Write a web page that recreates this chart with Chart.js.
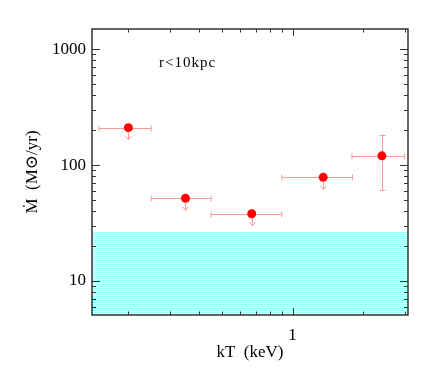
<!DOCTYPE html>
<html>
<head>
<meta charset="utf-8">
<script src="https://cdn.jsdelivr.net/npm/chart.js@4"></script>
<style>
  html, body { margin: 0; padding: 0; background: #fff; }
  #wrap { width: 436px; height: 374px; }
</style>
</head>
<body>
<div id="wrap"><canvas id="c" width="436" height="374"></canvas></div>
<script>
// kT (keV) values and their bins
const kT    = [0.20, 0.35, 0.67, 1.35, 2.40];
const kTLo  = [0.15, 0.25, 0.45, 0.90, 1.79];
const kTHi  = [0.25, 0.45, 0.90, 1.80, 3.00];
// mass deposition rate (Msun/yr)
const mdot   = [210, 51.6, 38.0, 78.3, 120];
const mdotLo = [null, null, null, null, 60.5];
const mdotHi = [null, null, null, null, 180];
const upperLimit = [true, true, true, true, false];
// cyan band: upper bound
const bandTop = 26.4;

const xRange = [0.14, 3.1];
const yRange = [5.09, 1490];
const xLabels = [1];
const yLabels = [10, 100, 1000];

const serif = "'Liberation Serif', 'DejaVu Serif', serif";
const ink = '#333';
const errColor = '#f49a9a';

// striped cyan fill
const stripe = document.createElement('canvas');
stripe.width = 4; stripe.height = 2;
const sctx = stripe.getContext('2d');
sctx.fillStyle = '#e4ffff'; sctx.fillRect(0, 0, 4, 2);
sctx.fillStyle = '#96ffff'; sctx.fillRect(0, 0, 4, 1);
const bandFill = sctx.createPattern(stripe, 'repeat');

const isMajor = (v, list) => list.some(m => Math.abs(v / m - 1) < 1e-6);

// inward ticks and full frame
const framePlugin = {
  id: 'frame',
  afterDatasetsDraw(chart) {
    const { ctx, chartArea: a, scales: { x, y } } = chart;
    ctx.save();
    ctx.strokeStyle = ink;
    ctx.lineWidth = 1;
    ctx.beginPath();
    for (let e = -1; e <= 0; e++) {
      for (let s = 1; s <= 9; s++) {
        const v = s * Math.pow(10, e);
        if (v < xRange[0] || v > xRange[1]) continue;
        const px = Math.round(x.getPixelForValue(v)) + 0.5;
        const len = s === 1 ? 7 : 3.5;
        ctx.moveTo(px, a.bottom); ctx.lineTo(px, a.bottom - len);
        ctx.moveTo(px, a.top); ctx.lineTo(px, a.top + len);
      }
    }
    for (let e = 0; e <= 3; e++) {
      for (let s = 1; s <= 9; s++) {
        const v = s * Math.pow(10, e);
        if (v < yRange[0] || v > yRange[1]) continue;
        const py = Math.round(y.getPixelForValue(v)) + 0.5;
        const len = s === 1 ? 8 : 4;
        ctx.moveTo(a.left, py); ctx.lineTo(a.left + len, py);
        ctx.moveTo(a.right, py); ctx.lineTo(a.right - len, py);
      }
    }
    ctx.stroke();
    ctx.lineWidth = 1.5;
    ctx.strokeRect(a.left, a.top, a.right - a.left, a.bottom - a.top);

    ctx.fillStyle = '#000';
    ctx.font = "15px " + serif;
    ctx.letterSpacing = '1px';
    ctx.textBaseline = 'middle';
    ctx.fillText('r<10kpc', x.getPixelForValue(0.27), y.getPixelForValue(757));
    ctx.restore();
  }
};

// error bars below the points, upper-limit arrows
const errorPlugin = {
  id: 'errors',
  beforeDatasetsDraw(chart) {
    const { ctx, scales: { x, y } } = chart;
    ctx.save();
    ctx.strokeStyle = errColor;
    ctx.lineWidth = 1;
    ctx.beginPath();
    kT.forEach((k, i) => {
      const py = Math.round(y.getPixelForValue(mdot[i])) + 0.5;
      const x0 = x.getPixelForValue(kTLo[i]);
      const x1 = x.getPixelForValue(kTHi[i]);
      ctx.moveTo(x0, py); ctx.lineTo(x1, py);
      ctx.moveTo(x0, py - 3); ctx.lineTo(x0, py + 3);
      ctx.moveTo(x1, py - 3); ctx.lineTo(x1, py + 3);
      if (mdotLo[i] != null) {
        const px = Math.round(x.getPixelForValue(k)) + 0.5;
        const y0 = y.getPixelForValue(mdotLo[i]);
        const y1 = y.getPixelForValue(mdotHi[i]);
        ctx.moveTo(px, y0); ctx.lineTo(px, y1);
        ctx.moveTo(px - 3, y0); ctx.lineTo(px + 3, y0);
        ctx.moveTo(px - 3, y1); ctx.lineTo(px + 3, y1);
      }
    });
    ctx.stroke();
    ctx.restore();
  },
  afterDatasetsDraw(chart) {
    const { ctx, scales: { x, y } } = chart;
    ctx.save();
    ctx.strokeStyle = errColor;
    ctx.lineWidth = 1;
    ctx.beginPath();
    kT.forEach((k, i) => {
      if (!upperLimit[i]) return;
      const px = Math.round(x.getPixelForValue(k)) + 0.5;
      const py = y.getPixelForValue(mdot[i]);
      ctx.moveTo(px, py + 4); ctx.lineTo(px, py + 12);
      ctx.moveTo(px - 3, py + 8.5); ctx.lineTo(px, py + 12); ctx.lineTo(px + 3, py + 8.5);
    });
    ctx.stroke();
    ctx.restore();
  }
};

new Chart(document.getElementById('c'), {
  type: 'scatter',
  data: {
    datasets: [
      {
        label: 'band',
        type: 'line',
        data: [{ x: xRange[0], y: bandTop }, { x: xRange[1], y: bandTop }],
        borderWidth: 0,
        pointRadius: 0,
        backgroundColor: bandFill,
        fill: 'start'
      },
      {
        label: 'Mdot',
        data: kT.map((k, i) => ({ x: k, y: mdot[i] })),
        pointRadius: 4.5,
        pointBackgroundColor: '#ff0000',
        pointBorderColor: '#ff0000',
        pointBorderWidth: 0
      }
    ]
  },
  options: {
    responsive: false,
    animation: false,
    layout: { padding: { top: 29, right: 28, left: 0, bottom: 0 } },
    plugins: { legend: { display: false }, tooltip: { enabled: false } },
    scales: {
      x: {
        type: 'logarithmic',
        min: xRange[0], max: xRange[1],
        afterFit: s => { s.height = 59; },
        grid: { display: false, drawTicks: false },
        border: { display: false },
        ticks: {
          autoSkip: false, maxRotation: 0, padding: 10,
          color: '#000', font: { family: serif, size: 17 },
          callback: v => isMajor(v, xLabels) ? String(v) : ''
        },
        title: {
          display: true, text: 'kT  (keV)', color: '#000',
          font: { family: serif, size: 17 }, padding: { top: 0, bottom: 11 }
        }
      },
      y: {
        type: 'logarithmic',
        min: yRange[0], max: yRange[1],
        afterFit: s => { s.width = 92; },
        grid: { display: false, drawTicks: false },
        border: { display: false },
        ticks: {
          autoSkip: false, padding: 6,
          color: '#000', font: { family: serif, size: 17 },
          callback: v => isMajor(v, yLabels) ? String(v) : ''
        },
        title: {
          display: true, text: 'Ṁ  (M⊙/yr)', color: '#000',
          font: { family: serif, size: 17 }, padding: { top: 22, bottom: 0 }
        }
      }
    }
  },
  plugins: [errorPlugin, framePlugin]
});
</script>
</body>
</html>
